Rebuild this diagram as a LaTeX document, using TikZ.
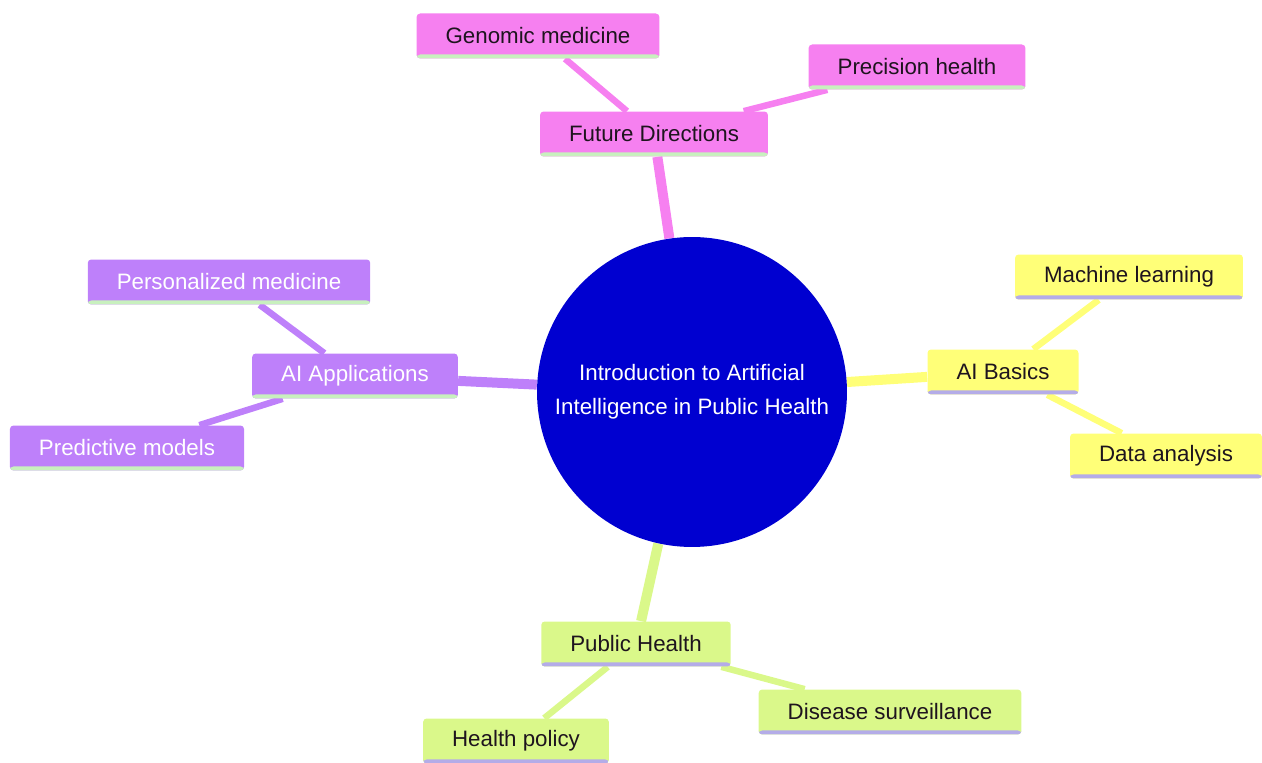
\documentclass[tikz,border=0pt]{standalone}
\usepackage{fontspec}
\setmainfont{Liberation Sans}
\usetikzlibrary{positioning,backgrounds}

\definecolor{hubblue}{RGB}{0,0,208}
\definecolor{fdpink}{RGB}{246,128,240}
\definecolor{appurple}{RGB}{190,128,250}
\definecolor{bsyellow}{RGB}{255,255,120}
\definecolor{phlime}{RGB}{218,248,138}
\definecolor{ulgreen}{RGB}{200,240,190}
\definecolor{ullav}{RGB}{180,172,232}
\definecolor{darktext}{RGB}{30,20,30}

\begin{document}
\begin{tikzpicture}[
  x=0.02cm, y=-0.02cm,
  box/.style={rectangle, rounded corners=2pt, minimum height=0.9cm, inner xsep=0.58cm, text=darktext, font=\fontsize{12.7}{15}\selectfont},
  uline/.style={path picture={\fill[#1] ([yshift=0.08cm]path picture bounding box.south west) rectangle (path picture bounding box.south east);}},
  hub/.style={circle, fill=hubblue, minimum size=6.2cm, text=white, align=center, font=\fontsize{12.7}{19.4}\selectfont},
  future/.style={box, fill=fdpink, uline=ulgreen},
  apps/.style={box, fill=appurple, text=white, uline=ulgreen},
  basics/.style={box, fill=bsyellow, uline=ullav},
  health/.style={box, fill=phlime, uline=ullav},
  trunk/.style={line width=0.2cm},
  twig/.style={line width=0.13cm}
]
\useasboundingbox (0,0) rectangle (1262,763);

% Mitte
\node[hub] (hub) at (692,392) {Introduction to Artificial\\Intelligence in Public Health};

% Future Directions
\node[future] (fd) at (654,134) {Future Directions};
\node[future] (genomic) at (538,36) {Genomic medicine};
\node[future] (precision) at (917,67) {Precision health};

% AI Applications
\node[apps] (apps) at (355,376) {AI Applications};
\node[apps] (personal) at (229,282) {Personalized medicine};
\node[apps] (predict) at (127,448) {Predictive models};

% AI Basics
\node[basics] (basics) at (1003,372) {AI Basics};
\node[basics] (ml) at (1129,277) {Machine learning};
\node[basics] (data) at (1166,456) {Data analysis};

% Public Health
\node[health] (ph) at (636,644) {Public Health};
\node[health] (policy) at (516,741) {Health policy};
\node[health] (surv) at (890,712) {Disease surveillance};

% Verbindungen
\begin{pgfonlayer}{background}
\draw[trunk, fdpink] (hub) -- (fd);
\draw[trunk, appurple] (hub) -- (apps);
\draw[trunk, bsyellow] (hub) -- (basics);
\draw[trunk, phlime] (hub) -- (ph);

\draw[twig, fdpink] (fd) -- (genomic);
\draw[twig, fdpink] (fd) -- (precision);
\draw[twig, appurple] (apps) -- (personal);
\draw[twig, appurple] (apps) -- (predict);
\draw[twig, bsyellow] (basics) -- (ml);
\draw[twig, bsyellow] (basics) -- (data);
\draw[twig, phlime] (ph) -- (policy);
\draw[twig, phlime] (ph) -- (surv);
\end{pgfonlayer}

\end{tikzpicture}
\end{document}
